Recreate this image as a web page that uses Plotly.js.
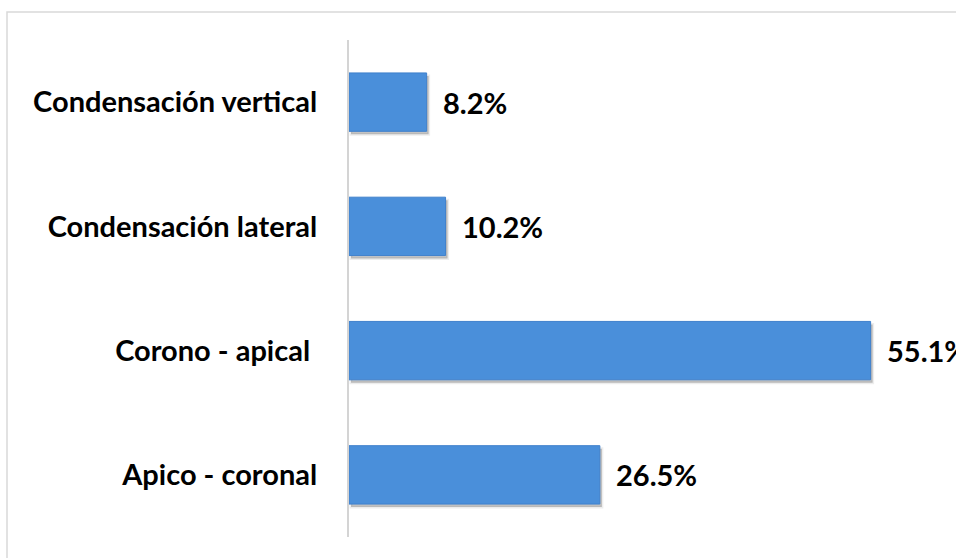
<!DOCTYPE html>
<html>
<head>
<meta charset="utf-8">
<script src="https://cdn.plot.ly/plotly-3.0.1.min.js"></script>
<style>
html,body{margin:0;padding:0;background:#fff;}
#chart{width:956px;height:558px;}
</style>
</head>
<body>
<div id="chart"></div>
<script>
const categories = ["Condensación vertical", "Condensación lateral", "Corono - apical ", "Apico - coronal"];
const values = [8.2, 10.2, 55.1, 26.5];
const valueLabels = ["8.2%", "10.2%", "55.1%", "26.5%"];

const W = 956, H = 558;
const mL = 349, mR = 39, mT = 40, mB = 21;
const pw = W - mL - mR, ph = H - mT - mB;
const xMax = 60;
const catPx = ph / categories.length;
const shY = 3 / catPx, shX = 2 * xMax / pw;
const FONT = 'Lato, sans-serif';

const shadow = {
  type: 'bar', orientation: 'h',
  x: values, y: categories,
  xaxis: 'x', yaxis: 'y',
  marker: {color: 'rgba(0,0,0,0.22)', line: {color: 'rgba(0,0,0,0.07)', width: 3}},
  hoverinfo: 'none'
};

const bars = {
  type: 'bar', orientation: 'h',
  x: values, y: categories,
  xaxis: 'x2', yaxis: 'y2',
  marker: {color: '#4a8fda', line: {color: '#3f80cc', width: 1}},
  hoverinfo: 'none'
};

const annotations = values.map((v, i) => ({
  x: v, y: categories[i], xref: 'x2', yref: 'y2',
  text: '<b>' + valueLabels[i] + '</b>',
  showarrow: false, xanchor: 'left', yanchor: 'middle', xshift: 14,
  font: {family: FONT, size: 29, color: '#000'}
}));

const layout = {
  width: W, height: H,
  margin: {l: mL, r: mR, t: mT, b: mB},
  paper_bgcolor: '#fff', plot_bgcolor: '#fff',
  showlegend: false,
  bargap: 0.53,
  xaxis: {range: [-shX, xMax - shX], showgrid: false, zeroline: false, showticklabels: false, showline: false, ticks: ''},
  yaxis: {type: 'category', range: [categories.length - 0.5 - shY, -0.5 - shY],
          showgrid: false, zeroline: false, showticklabels: false, showline: false, ticks: ''},
  xaxis2: {overlaying: 'x', range: [0, xMax], showgrid: false, zeroline: false, showticklabels: false, showline: false, ticks: ''},
  yaxis2: {
    overlaying: 'y', side: 'left', type: 'category',
    range: [categories.length - 0.5, -0.5],
    showgrid: false, zeroline: false,
    showline: true, linecolor: '#d4d4d4', linewidth: 2,
    ticks: '', ticklabelstandoff: 24,
    tickfont: {family: FONT, size: 29, color: '#000', weight: 'bold'}
  },
  annotations: annotations,
  shapes: [{
    type: 'rect', xref: 'paper', yref: 'paper',
    x0: (7 - mL) / pw, x1: (W + 5 - mL) / pw,
    y0: -(mB + 10) / ph, y1: (H - 12 - mB) / ph,
    line: {color: '#d9d9d9', width: 1.5}, fillcolor: 'rgba(0,0,0,0)', layer: 'below'
  }]
};

Plotly.newPlot('chart', [shadow, bars], layout, {displayModeBar: false, staticPlot: true});
</script>
</body>
</html>
